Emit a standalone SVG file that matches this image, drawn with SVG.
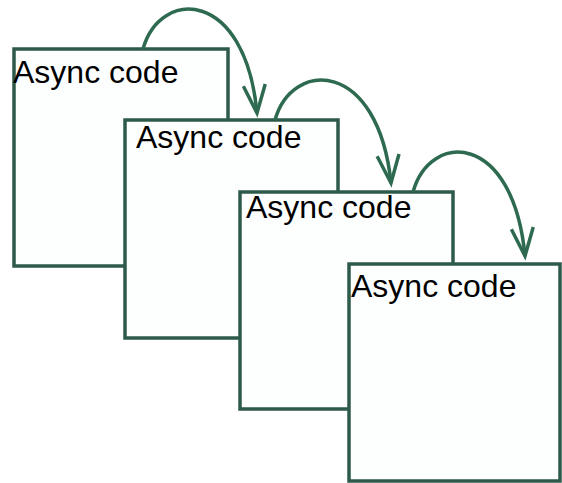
<svg xmlns="http://www.w3.org/2000/svg" width="562" height="483" viewBox="0 0 562 483">
<style>
.box{fill:#fdfffe;stroke:#2e5a4a;stroke-width:3.5}
.lbl{font-family:"Liberation Sans",Arial,sans-serif;font-size:32px;fill:#000}
.arc{fill:none;stroke:#2d6a50;stroke-width:3.5}
</style>
<defs>
<marker id="chev" markerUnits="userSpaceOnUse" markerWidth="40" markerHeight="40" viewBox="-32 -16 40 32" refX="0" refY="0" orient="auto">
<path d="M-28,-11 L0,0 L-28,11" fill="none" stroke="#2d6a50" stroke-width="3.5" stroke-linejoin="miter"/>
</marker>
</defs>
<rect width="562" height="483" fill="#ffffff"/>
<g id="node1"><rect class="box" x="14" y="49" width="214" height="217"/><text class="lbl" x="13" y="83">Async code</text></g>
<g id="node2"><rect class="box" x="125" y="120" width="213" height="218"/><text class="lbl" x="136" y="148">Async code</text></g>
<g id="node3"><rect class="box" x="240" y="192" width="213" height="217"/><text class="lbl" x="246" y="218">Async code</text></g>
<g id="node4"><rect class="box" x="349" y="264" width="211" height="217"/><text class="lbl" x="351" y="297">Async code</text></g>
<g id="connectors">
<path class="arc" marker-end="url(#chev)" d="M143,49 C160,-12 245,-12 257,113"/>
<path class="arc" marker-end="url(#chev)" d="M275,120 C292,59 378,59 391,183"/>
<path class="arc" marker-end="url(#chev)" d="M413,192 C430,131 513,131 525,256"/>
</g>
</svg>
